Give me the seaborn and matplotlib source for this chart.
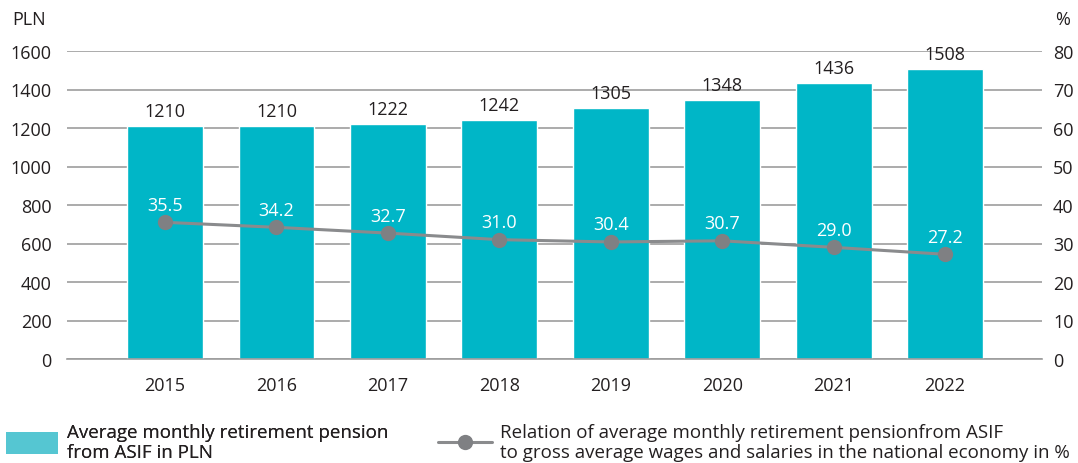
import matplotlib
matplotlib.use("Agg")
import matplotlib.pyplot as plt
import seaborn as sns
import pandas as pd
from matplotlib.patches import Patch
from matplotlib.lines import Line2D

years = ["2015", "2016", "2017", "2018", "2019", "2020", "2021", "2022"]
pension_pln = [1210, 1210, 1222, 1242, 1305, 1348, 1436, 1508]
relation_pct = [35.5, 34.2, 32.7, 31.0, 30.4, 30.7, 29.0, 27.2]
left_ticks = [0, 200, 400, 600, 800, 1000, 1200, 1400, 1600]
right_ticks = [0, 10, 20, 30, 40, 50, 60, 70, 80]

bar_label = "Average monthly retirement pension\nfrom ASIF in PLN"
line_label = ("Relation of average monthly retirement pensionfrom ASIF\n"
              "to gross average wages and salaries in the national economy in %")

BAR_COLOR = "#00B6C7"
LEGEND_BAR = "#55C6D2"
LINE_COLOR = "#8A8B8D"
TEXT = "#231F20"
FS = 13

sns.set_style("white")
plt.rcParams["font.family"] = ["Open Sans", "DejaVu Sans"]

df = pd.DataFrame({"year": years, "pension": pension_pln, "relation": relation_pct})
df["pos"] = range(len(years))

fig = plt.figure(figsize=(10.78, 4.64), dpi=100)
ax = fig.add_axes([67 / 1078, 1 - 360 / 464, (1042 - 67) / 1078, (360 - 52) / 464])

sns.barplot(data=df, x="year", y="pension", color=BAR_COLOR, saturation=1,
            width=0.68, ax=ax, zorder=2)
ax.set_ylim(0, 1600)
ax.set_yticks(left_ticks)
ax.set_xlim(-0.88, 7.87)
ax.yaxis.grid(True, color="#9D9D9D", linewidth=1.2, zorder=0)
ax.set_axisbelow(True)
ax.set_xlabel("")
ax.set_ylabel("")
for s in ["top", "left", "right"]:
    ax.spines[s].set_visible(False)
ax.spines["bottom"].set_color("#9D9D9D")
ax.spines["bottom"].set_linewidth(1.2)
ax.tick_params(axis="both", length=0, labelsize=FS, colors=TEXT)
ax.tick_params(axis="y", pad=11)
ax.tick_params(axis="x", pad=12)

for i, v in enumerate(pension_pln):
    ax.text(i, v + 30, f"{v}", ha="center", va="bottom", fontsize=FS, color=TEXT)

ax2 = ax.twinx()
sns.lineplot(data=df, x="pos", y="relation", color=LINE_COLOR, linewidth=2.2,
             marker="o", markersize=11, markeredgewidth=0, ax=ax2)
ax2.lines[0].set_markerfacecolor("#7F8083")
ax2.set_ylim(0, 80)
ax2.set_yticks(right_ticks)
ax2.set_xlim(-0.88, 7.87)
ax2.set_xlabel("")
ax2.set_ylabel("")
for s in ["top", "left", "right", "bottom"]:
    ax2.spines[s].set_visible(False)
ax2.tick_params(axis="y", length=0, labelsize=FS, colors=TEXT, pad=8)

for i, v in enumerate(relation_pct):
    ax2.text(i, v + 2.2, f"{v:.1f}", ha="center", va="bottom", fontsize=FS, color="white")

fig.text(12 / 1078, 1 - 20 / 464, "PLN", fontsize=FS, color=TEXT, va="center", ha="left")
fig.text(1070 / 1078, 1 - 20 / 464, "%", fontsize=FS, color=TEXT, va="center", ha="right")

h1 = Patch(facecolor=LEGEND_BAR, edgecolor="none")
leg1 = fig.legend([h1], [bar_label], loc="upper left", bbox_to_anchor=(0.0, 1 - 418 / 464),
                  frameon=False, fontsize=FS + 0.5, handlelength=2.8, handleheight=1.45,
                  handletextpad=0.45, borderaxespad=0, borderpad=0.3,
                  labelcolor=TEXT)
h2 = Line2D([0], [0], color=LINE_COLOR, linewidth=2.2, marker="o", markersize=11,
            markerfacecolor="#7F8083", markeredgewidth=0)
leg2 = fig.legend([h2], [line_label], loc="upper left", bbox_to_anchor=(432 / 1078, 1 - 418 / 464),
                  frameon=False, fontsize=FS + 0.5, handlelength=2.9,
                  handletextpad=0.45, borderaxespad=0, borderpad=0.3,
                  labelcolor=TEXT)
fig.add_artist(leg1)

fig.savefig("out.png", dpi=100)
